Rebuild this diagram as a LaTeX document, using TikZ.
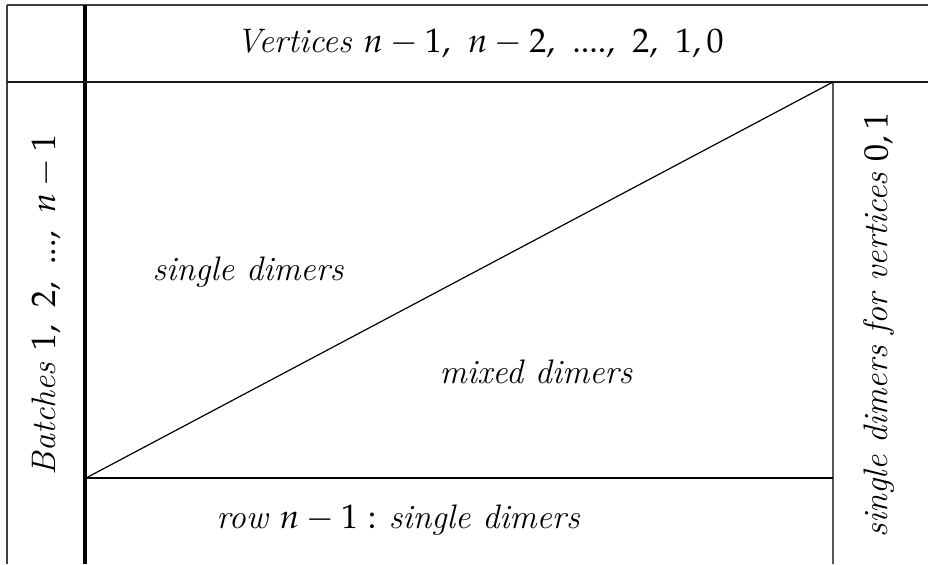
\documentclass[tikz,border=0pt]{standalone}
\usepackage{mathpazo}
\renewcommand{\rmdefault}{lmr}
\usetikzlibrary{calc}

\begin{document}
\begin{tikzpicture}[
    x=0.5pt, y=-0.5pt,
    lab/.style={font=\fontsize{17}{20}\selectfont\itshape, text=black, inner sep=1pt},
    frame/.style={line width=1pt, black!75},
    thick rule/.style={line width=1.6pt, black},
    thin rule/.style={line width=0.6pt, black},
  ]

  % ---------------- page size -----------------------------------------------
  \useasboundingbox (0,0) rectangle (928,564);

  % ---------------- corners of the table ------------------------------------
  \path (7,5)     coordinate (tl)
        (85,5)    coordinate (tm)
        (928,5)   coordinate (tr)
        (7,82)    coordinate (ml)
        (928,82)  coordinate (mr)
        (7,564)   coordinate (bl)
        (85,564)  coordinate (bm)
        (86,478)  coordinate (apex)   % lower left tip of the triangle
        (833,82)  coordinate (top)    % upper right tip of the triangle
        (833,478) coordinate (corner)
        (833,564) coordinate (bend);

  % ---------------- rules ---------------------------------------------------
  \draw[frame] (tl) -- (tr);
  \draw[frame] (tl) -- (bl);
  \draw[thick rule] (tm) -- (bm);
  \draw[line width=1.1pt, black!90] (ml) -- (mr);

  % ---------------- the triangle and the last row ---------------------------
  \draw[thin rule] (apex) -- (top) -- (bend);
  \draw[thin rule] (apex) -- (corner);

  % ---------------- labels --------------------------------------------------
  \node[lab] (vert) at (480,43) {Vertices $n-1,\ n-2,\ ....,\ 2,\ 1,0$};
  \node[lab, rotate=90] (batch) at (46,305) {Batches $1,\ 2,\ ...,\ n-1$};
  \node[lab] (single) at (248,272) {single dimers};
  \node[lab] (mixed) at (536,372) {mixed dimers};
  \node[lab] (lastrow) at (398,520) {row $n-1:$ single dimers};
  \node[lab, rotate=90] (side) at (879,325) {single dimers for vertices $0,1$};

\end{tikzpicture}
\end{document}
